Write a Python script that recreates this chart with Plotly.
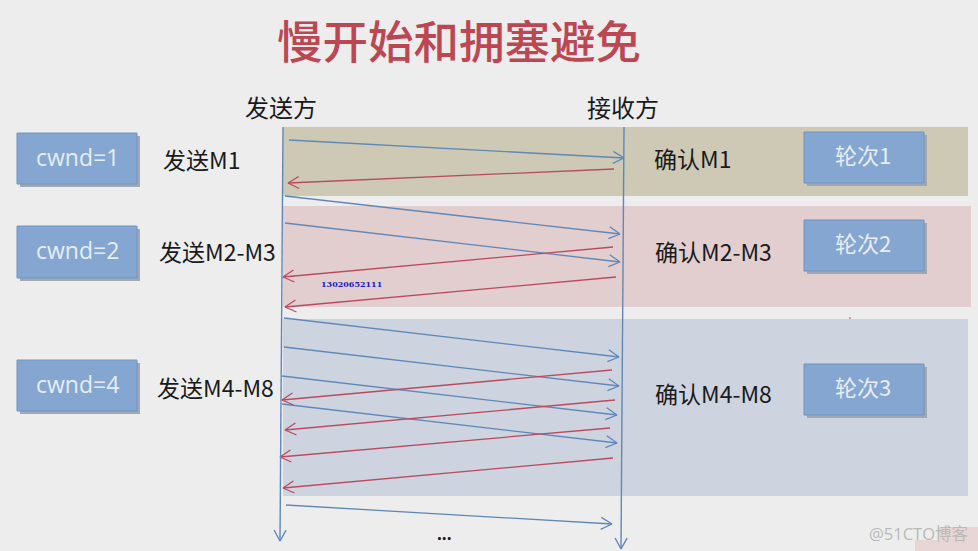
import math
import plotly.graph_objects as go

CJK = "Noto Sans CJK SC"

# everything is read in picture pixels, y going down
band_x0 = [283, 283, 283]
band_x1 = [968, 971, 968]
band_y0 = [127, 206, 319]
band_y1 = [196, 307, 496]
band_colors = ["#cdc9b5", "#e2cdcf", "#ced3e0"]

cwnd_labels = ["cwnd=1", "cwnd=2", "cwnd=4"]
cwnd_y0 = [133, 226, 360]
cwnd_y1 = [184, 278, 411]
round_labels = ["轮次1", "轮次2", "轮次3"]
round_y0 = [132, 220, 364]
round_y1 = [183, 271, 415]

send_labels = ["发送M1", "发送M2-M3", "发送M4-M8"]
send_x = [201, 217, 215]
send_y = [159, 251, 387]
ack_labels = ["确认M1", "确认M2-M3", "确认M4-M8"]
ack_x = [692, 713, 713]
ack_y = [158, 251, 393]

life_x0 = [283, 624]
life_y0 = [127, 127]
life_x1 = [280, 621]
life_y1 = [541, 549]

blue_x0 = [289, 285, 285, 284, 284, 282, 282, 286]
blue_y0 = [140, 196, 223, 318, 347, 376, 404, 505]
blue_x1 = [624, 620, 620, 619, 619, 617, 617, 612]
blue_y1 = [158, 234, 262, 357, 386, 415, 443, 524]

red_x0 = [614, 613, 616, 612, 615, 610, 613]
red_y0 = [169, 247, 277, 370, 400, 428, 458]
red_x1 = [288, 283, 285, 282, 285, 280, 283]
red_y1 = [183, 277, 307, 400, 430, 457, 488]


def arrow_path(x0, y0, x1, y1, length=11, half=6):
    # shaft plus an open V head, None breaks the line between arrows
    xs, ys = [], []
    for a, b, c, d in zip(x0, y0, x1, y1):
        n = math.hypot(c - a, d - b)
        ux, uy = (c - a) / n, (d - b) / n
        xs += [a, c, None, c - ux * length - uy * half, c, c - ux * length + uy * half, None]
        ys += [b, d, None, d - uy * length + ux * half, d, d - uy * length - ux * half, None]
    return xs, ys


fig = go.Figure()

for i in range(len(band_colors)):
    fig.add_shape(type="rect", x0=band_x0[i], x1=band_x1[i], y0=band_y0[i], y1=band_y1[i],
                  fillcolor=band_colors[i], line_width=0, layer="below")

# watermark patch in the corner
fig.add_shape(type="rect", x0=915, x1=978, y0=540, y1=551, fillcolor="#e8d6d6", line_width=0, layer="below")
fig.add_shape(type="rect", x0=938, x1=978, y0=527, y1=540, fillcolor="#e8d6d6", line_width=0, layer="below")

boxes = [(17, 137, a, b) for a, b in zip(cwnd_y0, cwnd_y1)] + [(804, 924, a, b) for a, b in zip(round_y0, round_y1)]
for x0, x1, y0, y1 in boxes:
    fig.add_shape(type="rect", x0=x0 + 3, x1=x1 + 3, y0=y0 + 3, y1=y1 + 3,
                  fillcolor="#a3a8b0", line_width=0, layer="below")
    fig.add_shape(type="rect", x0=x0, x1=x1, y0=y0, y1=y1,
                  fillcolor="#85a6d1", line=dict(color="#6d94c4", width=1), layer="below")

bx, by = arrow_path(blue_x0, blue_y0, blue_x1, blue_y1)
rx, ry = arrow_path(red_x0, red_y0, red_x1, red_y1)
lx, ly = arrow_path(life_x0, life_y0, life_x1, life_y1)
fig.add_trace(go.Scatter(x=bx, y=by, mode="lines", line=dict(color="#5f88b8", width=1.3), hoverinfo="skip"))
fig.add_trace(go.Scatter(x=rx, y=ry, mode="lines", line=dict(color="#bb4a60", width=1.3), hoverinfo="skip"))
fig.add_trace(go.Scatter(x=lx, y=ly, mode="lines", line=dict(color="#5f88b8", width=1.4), hoverinfo="skip"))
# small red speck above the third band
fig.add_trace(go.Scatter(x=[850, 850], y=[317, 319], mode="lines", line=dict(color="#d0405a", width=1), hoverinfo="skip"))


def label(text, x, y, size, color="#1a1a1a", family=CJK, weight=None):
    fig.add_annotation(x=x, y=y, text=text, showarrow=False, xanchor="center", yanchor="middle",
                       font=dict(family=family, size=size, color=color, weight=weight))


label("慢开始和拥塞避免", 459, 39, 45.5, "#bd4653", weight=500)
label("发送方", 281, 106, 24)
label("接收方", 623, 106, 24)

for i in range(3):
    label(send_labels[i], send_x[i], send_y[i], 23)
    label(ack_labels[i], ack_x[i], ack_y[i], 23)
    label(cwnd_labels[i], 77, (cwnd_y0[i] + cwnd_y1[i]) / 2 - 2, 23, "#e6edf5", "Open Sans")
    label(round_labels[i], 863, (round_y0[i] + round_y1[i]) / 2 - 4, 22, "#e6edf5")

label("<b>13020652111</b>", 351, 284, 8, "#1c1cc8", "DejaVu Serif")
label("<b>...</b>", 444, 533, 17, "#1a1a1a", "Open Sans")
label("@51CTO博客", 918, 533, 16.5, "#b9b9b9", "Open Sans, " + CJK)

fig.update_layout(
    width=978,
    height=551,
    margin=dict(l=0, r=0, t=0, b=0),
    paper_bgcolor="#ededed",
    plot_bgcolor="#ededed",
    showlegend=False,
    xaxis=dict(range=[0, 978], visible=False, fixedrange=True),
    yaxis=dict(range=[551, 0], visible=False, fixedrange=True),
)

# the page's default body margin would push the figure off by 8px
fig.write_html("out.html", config=dict(displayModeBar=False),
               post_script="document.body.style.margin='0';document.body.style.overflow='hidden';")
